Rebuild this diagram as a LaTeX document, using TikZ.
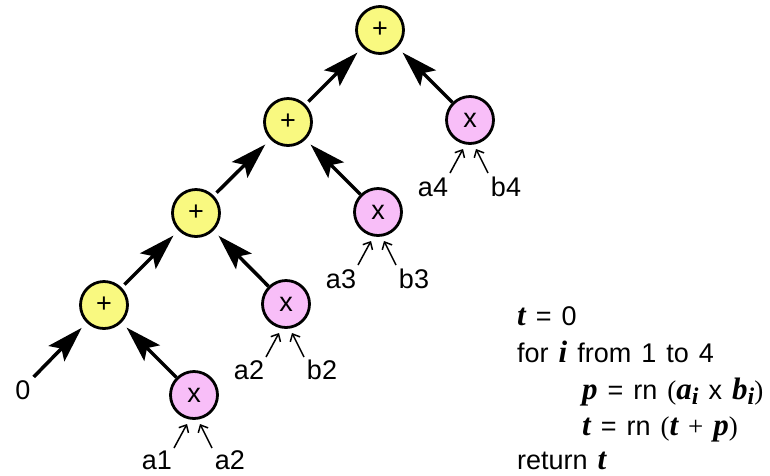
\documentclass[tikz,border=0pt]{standalone}
\usepackage{fontspec}
\setmainfont{Liberation Sans}
\newfontfamily\tms{Liberation Serif}
\usetikzlibrary{arrows.meta}
\definecolor{plusfill}{RGB}{249,249,128}
\definecolor{timesfill}{RGB}{248,190,248}
\newcommand{\vb}[1]{{\fontsize{31}{31}\selectfont\tms\bfseries\itshape #1}}
\newcommand{\sbi}{\raisebox{-5pt}{\fontsize{24}{24}\selectfont\tms\bfseries\itshape i}}
\newcommand{\codefont}{\fontsize{27}{27}\selectfont\setlength{\spaceskip}{10pt}}
\begin{document}
\begin{tikzpicture}[x=1pt,y=-1pt,
  opnode/.style={circle, draw=black, line width=2.8pt, minimum size=47pt, inner sep=0pt, font=\fontsize{27}{27}\selectfont},
  plusnode/.style={opnode, fill=plusfill},
  timesnode/.style={opnode, fill=timesfill},
  lbl/.style={inner sep=0pt, anchor=base, font=\fontsize{27}{27}\selectfont},
  bigarrow/.style={line width=3.5pt, -{Stealth[length=36pt,width=22pt,inset=7pt]}, shorten >=7pt},
  smallarrow/.style={line width=1.5pt, -{Straight Barb[length=6pt,width=11pt]}},
  code/.style={inner sep=0pt, anchor=base west, font=\codefont}]
\useasboundingbox (0,0) rectangle (770,475);
% plus nodes
\node[plusnode] (p1) at (104,305) {+};
\node[plusnode] (p2) at (196,213) {+};
\node[plusnode] (p3) at (288,122) {+};
\node[plusnode] (p4) at (380,30) {+};
% times nodes
\node[timesnode] (x1) at (194,395) {x};
\node[timesnode] (x2) at (286,304) {x};
\node[timesnode] (x3) at (378,212) {x};
\node[timesnode] (x4) at (470,120) {x};
% zero
\node[lbl] (zero) at (23,399) {0};
% input labels
\node[lbl] (a1) at (157,469) {a1};
\node[lbl] (b1) at (230,469) {a2};
\node[lbl] (a2) at (249,379) {a2};
\node[lbl] (b2) at (322,379) {b2};
\node[lbl] (a3) at (341,288) {a3};
\node[lbl] (b3) at (414,288) {b3};
\node[lbl] (a4) at (433,196) {a4};
\node[lbl] (b4) at (506,196) {b4};
% big arrows
\draw[bigarrow] ([shift={(3,-3)}]zero.north east) -- (p1);
\draw[bigarrow] (x1) -- (p1);
\draw[bigarrow, shorten <=4pt] (p1) -- (p2);
\draw[bigarrow] (x2) -- (p2);
\draw[bigarrow, shorten <=4pt] (p2) -- (p3);
\draw[bigarrow] (x3) -- (p3);
\draw[bigarrow, shorten <=4pt] (p3) -- (p4);
\draw[bigarrow] (x4) -- (p4);
% small arrows
\foreach \i in {1,2,3,4}{
  \coordinate (sa\i) at ([shift={(-20,53)}]x\i.center);
  \coordinate (ta\i) at ([shift={(-7,29)}]x\i.center);
  \coordinate (sb\i) at ([shift={(18,53)}]x\i.center);
  \coordinate (tb\i) at ([shift={(6,29)}]x\i.center);
  \draw[smallarrow] (sa\i) -- (ta\i);
  \draw[smallarrow] (sb\i) -- (tb\i);
}
% code
\node[code] (c1) at (517,325) {\vb{t} = 0};
\node[code] (c2) at (517,362) {for \vb{i} from 1 to 4};
\node[code] (c3) at (582,399) {\vb{p} = rn {\tms(}\vb{a}\sbi{} x \vb{b}\sbi{\tms)}};
\node[code] (c4) at (582,435) {\vb{t} = rn {\tms(}\vb{t} {\tms+} \vb{p}{\tms)}};
\node[code] (c5) at (517,469) {return \vb{t}};
\end{tikzpicture}
\end{document}
